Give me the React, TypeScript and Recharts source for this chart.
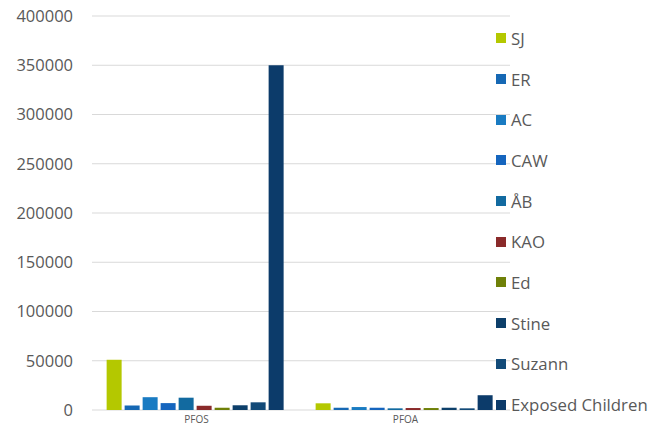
import { BarChart, Bar, XAxis, YAxis, CartesianGrid, Legend } from "recharts";

const categories = ["PFOS", "PFOA"];
const seriesNames = ["SJ", "ER", "AC", "CAW", "ÅB", "KAO", "Ed", "Stine", "Suzann", "Exposed Children"];
const seriesColors = ["#B4C800", "#1668B4", "#197BC2", "#1565BE", "#126AA0", "#8A2A2A", "#6F8008", "#0D3F6A", "#124A78", "#0C3B6A"];

const sj = [51000, 6800];
const er = [4500, 2300];
const ac = [13000, 3000];
const caw = [7000, 2300];
const ab = [12500, 1700];
const kao = [4300, 2000];
const ed = [2300, 2000];
const stine = [4800, 2300];
const suzann = [7800, 1700];
const exposedChildren = [350000, 15000];

const yTicks = [0, 50000, 100000, 150000, 200000, 250000, 300000, 350000, 400000];

const seriesValues = [sj, er, ac, caw, ab, kao, ed, stine, suzann, exposedChildren];

const data = categories.map((cat, i) => {
  const row: Record<string, any> = { name: cat };
  seriesNames.forEach((s, j) => {
    row[s] = seriesValues[j][i];
  });
  return row;
});

const FONT = "'Open Sans', 'Segoe UI', sans-serif";

const SideLegend = () => (
  <div style={{ fontFamily: FONT, fontSize: 16.8, color: "#595959" }}>
    {seriesNames.map((s, i) => (
      <div key={s} style={{ height: 40.7, display: "flex", alignItems: "center", whiteSpace: "nowrap" }}>
        <span style={{ display: "inline-block", width: 10, height: 10, background: seriesColors[i], marginRight: 5 }} />
        <span>{s}</span>
      </div>
    ))}
  </div>
);

export default function App() {
  return (
    <div style={{ position: "absolute", left: 0, top: 0, width: 658, height: 433, background: "#fff" }}>
      <BarChart
        width={658}
        height={433}
        data={data}
        margin={{ top: 16, right: 148, left: 0, bottom: 0 }}
        barCategoryGap="7%"
        barGap={3}
      >
        <CartesianGrid vertical={false} stroke="#d9d9d9" strokeWidth={1} />
        <XAxis
          dataKey="name"
          height={23}
          axisLine={false}
          tickLine={false}
          tickSize={0}
          tickMargin={6}
          tick={{ fontSize: 10, fill: "#595959", fontFamily: FONT }}
        />
        <YAxis
          width={92}
          domain={[0, 400000]}
          ticks={yTicks}
          axisLine={false}
          tickLine={false}
          tickSize={0}
          tickMargin={19}
          interval={0}
          tick={{ fontSize: 16.5, fill: "#595959", fontFamily: FONT }}
        />
        <Legend
          layout="vertical"
          align="center"
          verticalAlign="middle"
          content={<SideLegend />}
          wrapperStyle={{ left: 496, top: 18, width: 162 }}
        />
        {seriesNames.map((s, i) => (
          <Bar key={s} dataKey={s} fill={seriesColors[i]} isAnimationActive={false} />
        ))}
      </BarChart>
    </div>
  );
}
